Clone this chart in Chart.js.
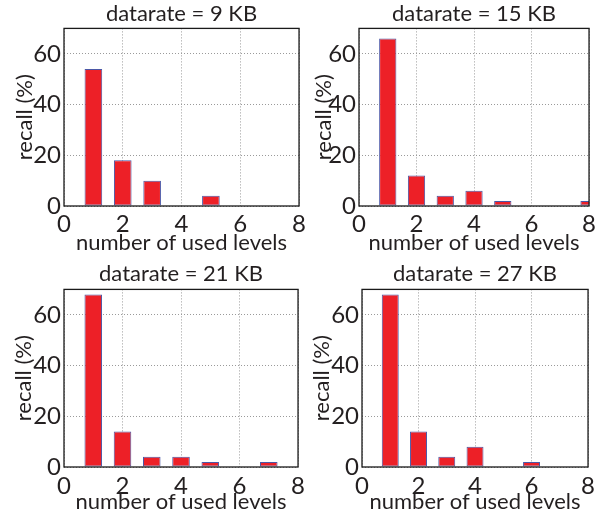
<!DOCTYPE html>
<html>
<head>
<meta charset="utf-8">
<script src="https://cdn.jsdelivr.net/npm/chart.js@4.4.0/dist/chart.umd.min.js"></script>
<style>
  body { margin: 0; background: #fff; }
  #wrap { position: relative; width: 600px; height: 513px; overflow: hidden; }
  #wrap canvas { position: absolute; }
</style>
</head>
<body>
<div id="wrap">
  <canvas id="c9" width="310" height="256" style="left:0;top:0"></canvas>
  <canvas id="c15" width="300" height="256" style="left:300px;top:0"></canvas>
  <canvas id="c21" width="310" height="259" style="left:0;top:256px"></canvas>
  <canvas id="c27" width="300" height="259" style="left:300px;top:256px"></canvas>
</div>
<script>
// number of used levels (x) and recall in % per datarate
const levels = [1, 2, 3, 4, 5, 6, 7, 8];
const recall9KB = [54, 18, 10, 0, 4, 0, 0, 0];
const recall15KB = [66, 12, 4, 6, 2, 0, 0, 2];
const recall21KB = [68, 14, 4, 4, 2, 0, 2, 0];
const recall27KB = [68, 14, 4, 8, 0, 2, 0, 0];

const xTicks = [0, 2, 4, 6, 8];
const yTicks = [0, 20, 40, 60];

const FONT = 'Lato';
const TEXT = '#231f20';

// frame around the plot area (matlab "box on")
const boxPlugin = {
  id: 'box',
  afterDatasetsDraw(chart) {
    const { ctx, chartArea: a } = chart;
    ctx.save();
    ctx.strokeStyle = '#1a1a1a';
    ctx.lineWidth = 1.3;
    ctx.strokeRect(a.left, a.top, a.right - a.left, a.bottom - a.top);
    ctx.restore();
  },
};

const makePanel = (id, title, values, layout) => {
  const canvas = document.getElementById(id);
  const ctx = canvas.getContext('2d');
  return new Chart(ctx, {
    type: 'bar',
    data: {
      datasets: [
        {
          data: levels.map((x, i) => ({ x, y: values[i] })),
          backgroundColor: '#ed2027',
          borderColor: '#4b57a6',
          borderWidth: 1,
          borderSkipped: false,
          barPercentage: 0.6,
          categoryPercentage: 1,
        },
      ],
    },
    options: {
      responsive: false,
      animation: false,
      layout: { padding: { left: 0, right: layout.padRight, top: 0, bottom: 0 } },
      plugins: {
        legend: { display: false },
        tooltip: { enabled: false },
        title: {
          display: true,
          fullSize: false,
          text: title,
          color: TEXT,
          font: { family: FONT, size: 22, weight: 'normal' },
          padding: { top: layout.titleTop, bottom: layout.titleBottom },
        },
      },
      scales: {
        x: {
          type: 'linear',
          min: 0,
          max: 8,
          offset: false,
          afterBuildTicks: (scale) => {
            scale.ticks = xTicks.map((value) => ({ value }));
          },
          afterFit: (scale) => {
            scale.height = layout.xHeight;
          },
          grid: { offset: false, color: '#9a9a9a', drawTicks: false },
          border: { display: false, dash: [1, 2] },
          ticks: {
            color: TEXT,
            padding: layout.xTickPad,
            maxRotation: 0,
            font: { family: FONT, size: 24 },
          },
          title: {
            display: true,
            text: 'number of used levels',
            color: TEXT,
            font: { family: FONT, size: 22 },
            padding: { top: 0, bottom: 0 },
          },
        },
        y: {
          min: 0,
          max: 70,
          afterBuildTicks: (scale) => {
            scale.ticks = yTicks.map((value) => ({ value }));
          },
          afterFit: (scale) => {
            scale.width = layout.yWidth;
          },
          grid: { color: '#9a9a9a', drawTicks: false },
          border: { display: false, dash: [1, 2] },
          ticks: {
            color: TEXT,
            padding: 3,
            font: { family: FONT, size: 24 },
          },
          title: {
            display: true,
            text: 'recall (%)',
            color: TEXT,
            font: { family: FONT, size: 22 },
            padding: { top: layout.yTitleLeft, bottom: 0 },
          },
        },
      },
    },
    plugins: [boxPlugin],
  });
};

const topRow = { titleTop: 1, titleBottom: 1, xHeight: 50, xTickPad: 4 };
const bottomRow = { titleTop: 5, titleBottom: 2, xHeight: 48, xTickPad: 5 };

makePanel('c9', 'datarate = 9 KB', recall9KB, { ...topRow, yWidth: 64, padRight: 7, yTitleLeft: 12 });
makePanel('c15', 'datarate = 15 KB', recall15KB, { ...topRow, yWidth: 59, padRight: 3, yTitleLeft: 11 });
makePanel('c21', 'datarate = 21 KB', recall21KB, { ...bottomRow, yWidth: 64, padRight: 7, yTitleLeft: 11 });
makePanel('c27', 'datarate = 27 KB', recall27KB, { ...bottomRow, yWidth: 62, padRight: 1, yTitleLeft: 9 });
</script>
</body>
</html>
